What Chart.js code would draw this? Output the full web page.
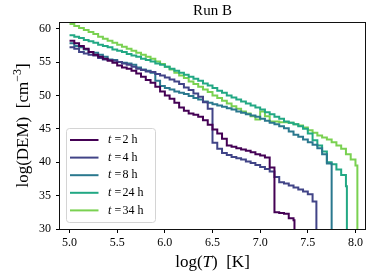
<!DOCTYPE html>
<html><head><meta charset="utf-8">
<script src="https://cdn.jsdelivr.net/npm/chart.js@4.4.1/dist/chart.umd.min.js"></script>
<style>html,body{margin:0;padding:0;background:#fff}#wrap{width:374px;height:280px;position:relative}</style>
</head><body><div id="wrap"><canvas id="c" width="374" height="280"></canvas></div>
<script>
// log(T) grid (shared bins)
const logT = [5.00,5.05,5.10,5.15,5.20,5.25,5.30,5.35,5.40,5.45,5.50,5.55,5.60,5.65,5.70,5.75,5.80,5.85,5.90,5.95,
  6.00,6.05,6.10,6.15,6.20,6.25,6.30,6.35,6.40,6.45,6.50,6.55,6.60,6.65,6.70,6.75,6.80,6.85,6.90,6.95,
  7.00,7.05,7.10,7.15,7.20,7.25,7.30,7.35,7.40,7.45,7.50,7.55,7.60,7.65,7.70,7.75,7.80,7.85,7.90,7.95,8.00];
// log(DEM) series
const dem2 = [58.2,57.8,57.4,57.0,56.5,56.1,55.8,55.5,55.2,54.9,54.5,54.2,54.0,53.7,53.3,52.8,52.3,51.9,51.3,50.6,
  50.0,49.5,48.9,48.2,47.7,47.3,47.1,46.8,46.3,45.6,44.9,44.3,43.5,42.5,42.3,42.1,41.9,41.7,41.5,41.2,
  41.0,40.7,39.2,32.5,32.4,32.3,31.6,31.3];
const dem4 = [57.2,57.0,56.5,56.3,56.1,56.0,55.6,55.4,55.3,55.2,55.0,54.8,54.6,54.3,54.0,53.8,53.6,53.5,53.2,53.0,
  52.7,52.4,52.1,51.7,51.2,50.8,50.3,49.8,49.0,48.0,42.9,42.0,41.4,41.1,40.8,40.6,40.4,40.1,39.9,39.6,
  39.3,39.0,38.6,37.8,37.0,36.8,36.5,36.2,35.9,35.6,35.2,34.1];
const dem8 = [57.8,57.4,57.2,56.9,56.5,56.4,56.1,55.8,55.4,55.3,55.0,54.9,54.8,54.6,54.2,53.9,53.7,53.4,52.2,51.4,
  51.1,50.9,50.6,50.4,50.2,49.9,49.6,49.4,49.1,48.9,48.7,48.5,48.3,48.1,47.9,47.6,47.4,47.2,47.0,46.8,
  46.5,46.2,45.9,45.7,45.4,45.1,44.6,44.1,43.8,43.4,43.0,42.6,42.1,41.2,39.8];
const dem24 = [59.0,58.8,58.6,58.3,58.1,57.9,57.6,57.4,57.2,56.9,56.7,56.5,56.2,56.0,55.8,55.5,55.3,55.1,54.8,54.6,
  54.3,54.0,53.7,53.4,53.1,52.8,52.5,52.2,51.8,51.5,51.1,50.7,50.4,50.0,49.7,49.4,49.1,48.8,48.5,48.2,
  47.9,47.5,47.2,46.8,46.5,46.1,45.9,45.7,45.4,45.0,44.3,43.3,42.5,41.6,40.0,39.7,38.9,38.1,36.4];
const dem34 = [60.7,60.4,60.1,59.8,59.5,59.2,58.8,58.5,58.2,57.9,57.6,57.3,57.0,56.7,56.4,56.1,55.8,55.5,55.1,54.7,
  54.3,53.9,53.4,53.0,52.6,52.1,51.7,51.3,50.9,50.5,50.0,49.6,49.2,48.8,48.4,48.0,47.6,47.3,46.9,46.4,
  47.6,46.9,46.1,46.1,46.0,46.0,45.9,45.7,45.5,45.2,44.8,44.4,44.0,43.7,43.4,43.0,42.5,42.0,41.2,40.4,39.5];
// upper end of each distribution (where it falls off)
const tEnd = [7.36, 7.59, 7.75, 7.91, 8.02];
const dropTo = 20;
const runs = ['2','4','8','24','34'];
const colors = ['#440154','#414487','#2a788e','#22a884','#7ad151'];
const xTicks = [5.0,5.5,6.0,6.5,7.0,7.5,8.0];
const yTicks = [30,35,40,45,50,55,60];
const series = [dem2, dem4, dem8, dem24, dem34];

function build(vals, end){
  const pts = vals.map((v,i)=>({x:logT[i], y:v}));
  pts.push({x:end, y:dropTo});
  return pts;
}
const SERIF = '"Liberation Serif","DejaVu Serif",serif';

const deco = {
  id:'deco',
  afterDraw(chart){
    const ctx = chart.ctx, a = chart.chartArea;
    ctx.save();
    // frame
    ctx.strokeStyle = '#111'; ctx.lineWidth = 1;
    ctx.strokeRect(Math.round(a.left)-0.5, Math.round(a.top)+0.5, Math.round(a.right-a.left)+1, Math.round(a.bottom-a.top));
    // title
    ctx.fillStyle = '#000';
    ctx.textBaseline = 'middle'; ctx.textAlign = 'center';
    ctx.font = '15px ' + SERIF;
    ctx.fillText('Run B', (a.left+a.right)/2, 11);
    // x label: log(T) [K]
    ctx.textAlign = 'left';
    const xs = [['log(', '17px '+SERIF], ['T', 'italic 17px '+SERIF], [')  [K]', '17px '+SERIF]];
    let tw = 0; xs.forEach(s=>{ctx.font=s[1]; tw += ctx.measureText(s[0]).width;});
    let x0 = (a.left+a.right)/2 - tw/2;
    xs.forEach(s=>{ctx.font=s[1]; ctx.fillText(s[0], x0, 263); x0 += ctx.measureText(s[0]).width;});
    // y label: log(DEM) [cm^-3]
    ctx.save();
    ctx.translate(24, (a.top+a.bottom)/2);
    ctx.rotate(-Math.PI/2);
    const ys = [['log(DEM)  [cm', '17px '+SERIF, 0], ['\u22123', '12px '+SERIF, -6], [']', '17px '+SERIF, 0]];
    tw = 0; ys.forEach(s=>{ctx.font=s[1]; tw += ctx.measureText(s[0]).width;});
    x0 = -tw/2;
    ys.forEach(s=>{ctx.font=s[1]; ctx.fillText(s[0], x0, s[2]); x0 += ctx.measureText(s[0]).width;});
    ctx.restore();
    // legend
    const bx = 66.5, by = 128.5, bw = 89, bh = 94, r = 3;
    ctx.beginPath();
    ctx.moveTo(bx+r, by); ctx.lineTo(bx+bw-r, by); ctx.arcTo(bx+bw, by, bx+bw, by+r, r);
    ctx.lineTo(bx+bw, by+bh-r); ctx.arcTo(bx+bw, by+bh, bx+bw-r, by+bh, r);
    ctx.lineTo(bx+r, by+bh); ctx.arcTo(bx, by+bh, bx, by+bh-r, r);
    ctx.lineTo(bx, by+r); ctx.arcTo(bx, by, bx+r, by, r); ctx.closePath();
    ctx.fillStyle = 'rgba(255,255,255,0.8)'; ctx.fill();
    ctx.strokeStyle = '#d4d4d4'; ctx.lineWidth = 1; ctx.stroke();
    runs.forEach((t,i)=>{
      const y = 140 + i*17.6;
      ctx.strokeStyle = colors[i]; ctx.lineWidth = 2;
      ctx.beginPath(); ctx.moveTo(70, y); ctx.lineTo(98.5, y); ctx.stroke();
      ctx.fillStyle = '#000';
      ctx.font = 'italic 12px ' + SERIF; ctx.fillText('t', 108, y);
      ctx.font = '12px ' + SERIF; ctx.fillText('=', 114.5, y);
      ctx.fillText(t + ' h', 122.5, y);
    });
    ctx.restore();
  }
};

new Chart(document.getElementById('c'), {
  type: 'line',
  data: {
    datasets: series.map((s,i)=>({
      label: 't =' + runs[i] + ' h',
      data: build(s, tEnd[i]),
      borderColor: colors[i],
      backgroundColor: colors[i],
      borderWidth: 2,
      pointRadius: 0,
      stepped: 'before',
      fill: false,
      tension: 0
    }))
  },
  options: {
    responsive: false, animation: false, devicePixelRatio: 1,
    layout: {padding: {left: 0, right: 9, top: 22, bottom: 0}},
    plugins: {legend: {display: false}, title: {display: false}, tooltip: {enabled: false}},
    scales: {
      x: {
        type: 'linear', min: 4.9, max: 8.1,
        afterBuildTicks: s => { s.ticks = xTicks.map(v=>({value:v})); },
        afterFit: s => { s.height = 51; },
        grid: {display: true, drawOnChartArea: false, drawTicks: true, tickLength: 4, color: '#000', lineWidth: 1},
        border: {display: false},
        ticks: {color: '#000', font: {family: SERIF, size: 12}, padding: 3, maxRotation: 0, autoSkip: false,
                callback: v => Number(v).toFixed(1)}
      },
      y: {
        type: 'linear', min: 30, max: 61,
        afterBuildTicks: s => { s.ticks = yTicks.map(v=>({value:v})); },
        afterFit: s => { s.width = 60; },
        grid: {display: true, drawOnChartArea: false, drawTicks: true, tickLength: 4, color: '#000', lineWidth: 1},
        border: {display: false},
        ticks: {color: '#000', font: {family: SERIF, size: 12}, padding: 5, autoSkip: false,
                callback: v => String(v)}
      }
    }
  },
  plugins: [deco]
});
</script></body></html>
